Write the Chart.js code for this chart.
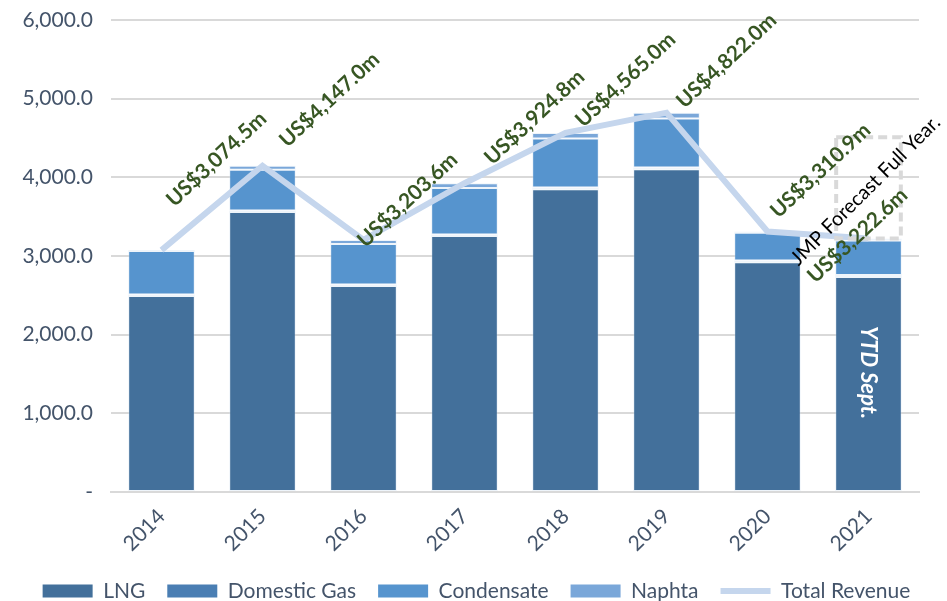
<!DOCTYPE html>
<html>
<head>
<meta charset="utf-8">
<script src="https://cdn.jsdelivr.net/npm/chart.js@4.4.1/dist/chart.umd.min.js"></script>
<style>
  html, body { margin: 0; padding: 0; background: #fff; }
  #wrap { width: 947px; height: 601px; position: relative; }
</style>
</head>
<body>
<div id="wrap"><canvas id="revChart"></canvas></div>
<script>
const years = ["2014", "2015", "2016", "2017", "2018", "2019", "2020", "2021"];
const lng = [2490, 3558, 2618, 3253, 3850, 4104, 2922, 2732];
const domesticGas = [20, 20, 20, 20, 20, 20, 20, 25];
const condensate = [555, 519, 516, 592, 625, 623, 354, 441];
const naphta = [10, 50, 50, 60, 70, 75, 15, 25];
const totalRevenue = [3074.5, 4147.0, 3203.6, 3924.8, 4565.0, 4822.0, 3310.9, 3222.6];
const totalLabels = ["US$3,074.5m", "US$4,147.0m", "US$3,203.6m", "US$3,924.8m",
  "US$4,565.0m", "US$4,822.0m", "US$3,310.9m", "US$3,222.6m"];
const forecastFullYear = 4510;
const yTicks = [0, 1000, 2000, 3000, 4000, 5000, 6000];

const FONT = "Lato";
const axisColor = "#44546a";
const gridColor = "#d9d9d9";
const lineColor = "#c5d6ed";
const LEGEND_PAD = 22;
const LEGEND_FONT = 21;

// label placement relative to each line point (centre of rotated text)
const labelShift = [[55, -91], [67, -66], [44, -40], [70, -66], [60, -53], [60, -52], [53, -61], [-11, -3]];

const fmt = (v) => v === 0 ? "-" : v.toLocaleString("en-US", { minimumFractionDigits: 1, maximumFractionDigits: 1 });

// keep the legend short so the plot keeps its height, then put its row at the bottom edge
const legendShift = {
  id: "legendShift",
  beforeLayout(chart) {
    const lg = chart.legend;
    if (lg && !lg._shortFit) {
      const origFit = lg.fit.bind(lg);
      lg.fit = function () {
        origFit();
        this.height = 45;
      };
      lg._shortFit = true;
    }
  },
  afterLayout(chart) {
    const lg = chart.legend;
    const h = lg.bottom - lg.top;
    lg.top = 591 - LEGEND_PAD - LEGEND_FONT / 2;
    lg.bottom = lg.top + h;
    lg.left += 17;
    lg.right += 17;
  }
};

const annotations = {
  id: "annotations",
  afterDatasetsDraw(chart) {
    const ctx = chart.ctx;
    const x = chart.scales.x;
    const y = chart.scales.y;
    const last = years.length - 1;
    const barMeta = chart.getDatasetMeta(0).data[last];
    const half = barMeta.width / 2;

    // forecast dashed box on the 2021 bar
    ctx.save();
    ctx.strokeStyle = "#d9d9d9";
    ctx.lineWidth = 4;
    ctx.setLineDash([9, 5]);
    const cx = x.getPixelForValue(last);
    const top = y.getPixelForValue(forecastFullYear);
    const bot = y.getPixelForValue(totalRevenue[last]);
    ctx.strokeRect(cx - half + 1, top, half * 2 - 2, bot - top);
    ctx.restore();

    // total revenue labels
    ctx.save();
    ctx.font = "bold 21px " + FONT;
    ctx.fillStyle = "#375623";
    ctx.textAlign = "center";
    ctx.textBaseline = "middle";
    totalRevenue.forEach((v, i) => {
      const px = x.getPixelForValue(i) + labelShift[i][0];
      const py = y.getPixelForValue(v) + labelShift[i][1];
      ctx.save();
      ctx.translate(px, py);
      ctx.rotate(-43 * Math.PI / 180);
      ctx.fillText(totalLabels[i], 0, 0);
      ctx.restore();
    });
    ctx.restore();

    // forecast note
    ctx.save();
    ctx.font = "20px " + FONT;
    ctx.fillStyle = "#000";
    ctx.textAlign = "center";
    ctx.textBaseline = "middle";
    ctx.translate(cx - 3, y.getPixelForValue(totalRevenue[last]) - 48);
    ctx.rotate(-45 * Math.PI / 180);
    ctx.fillText("JMP Forecast Full Year.", 0, 0);
    ctx.restore();

    // YTD note inside the bar
    ctx.save();
    ctx.font = "italic bold 22px " + FONT;
    ctx.fillStyle = "#fff";
    ctx.textAlign = "center";
    ctx.textBaseline = "middle";
    ctx.translate(cx, y.getPixelForValue(1520));
    ctx.rotate(Math.PI / 2);
    ctx.fillText("YTD Sept.", 0, 0);
    ctx.restore();
  }
};

const barStyle = (color) => ({
  backgroundColor: color,
  borderColor: "rgba(200,220,240,0.3)",
  borderWidth: 1,
  borderSkipped: false,
  stack: "rev",
  order: 1,
  barPercentage: 0.66,
  categoryPercentage: 1.0
});

new Chart(document.getElementById("revChart"), {
  type: "bar",
  data: {
    labels: years,
    datasets: [
      { label: "LNG", data: lng, ...barStyle("#43709b") },
      { label: "Domestic Gas", data: domesticGas, ...barStyle("#4a7eb3") },
      { label: "Condensate", data: condensate, ...barStyle("#5694ce") },
      { label: "Naphta", data: naphta, ...barStyle("#7aa7d9") },
      {
        type: "line",
        label: "Total Revenue",
        data: totalRevenue,
        borderColor: lineColor,
        backgroundColor: lineColor,
        borderWidth: 6,
        pointRadius: 0,
        tension: 0,
        stack: "total",
        order: 0
      }
    ]
  },
  options: {
    responsive: true,
    maintainAspectRatio: false,
    animation: false,
    layout: { padding: { top: 0, right: 28, left: 0, bottom: 0 } },
    plugins: {
      tooltip: { enabled: false },
      legend: {
        position: "bottom",
        labels: {
          color: axisColor,
          font: { family: FONT, size: LEGEND_FONT },
          boxWidth: 50,
          boxHeight: 13,
          padding: LEGEND_PAD,
          usePointStyle: true,
          pointStyleWidth: 50,
          generateLabels(chart) {
            return chart.data.datasets.map((ds, i) => ({
              text: ds.label,
              fillStyle: ds.backgroundColor,
              strokeStyle: ds.type === "line" ? ds.borderColor : ds.backgroundColor,
              lineWidth: ds.type === "line" ? 6 : 0,
              pointStyle: ds.type === "line" ? "line" : "rect",
              fontColor: axisColor,
              hidden: false,
              datasetIndex: i
            }));
          }
        }
      }
    },
    scales: {
      x: {
        stacked: true,
        grid: { display: false },
        border: { color: gridColor, width: 2 },
        afterFit(scale) { scale.height = 64; },
        ticks: {
          color: axisColor,
          font: { family: FONT, size: 21 },
          minRotation: 45,
          maxRotation: 45,
          padding: 4
        }
      },
      y: {
        stacked: true,
        min: 0,
        max: 6000,
        afterBuildTicks(scale) {
          scale.ticks = yTicks.map(v => ({ value: v }));
        },
        afterFit(scale) {
          scale.width = 111;
          scale.paddingTop = 20;
          scale.paddingBottom = 0;
        },
        grid: { color: gridColor, lineWidth: 2, drawTicks: false },
        border: { display: false },
        ticks: {
          color: axisColor,
          font: { family: FONT, size: 21 },
          padding: 18,
          callback: (v) => fmt(v)
        }
      }
    }
  },
  plugins: [annotations, legendShift]
});
</script>
</body>
</html>
